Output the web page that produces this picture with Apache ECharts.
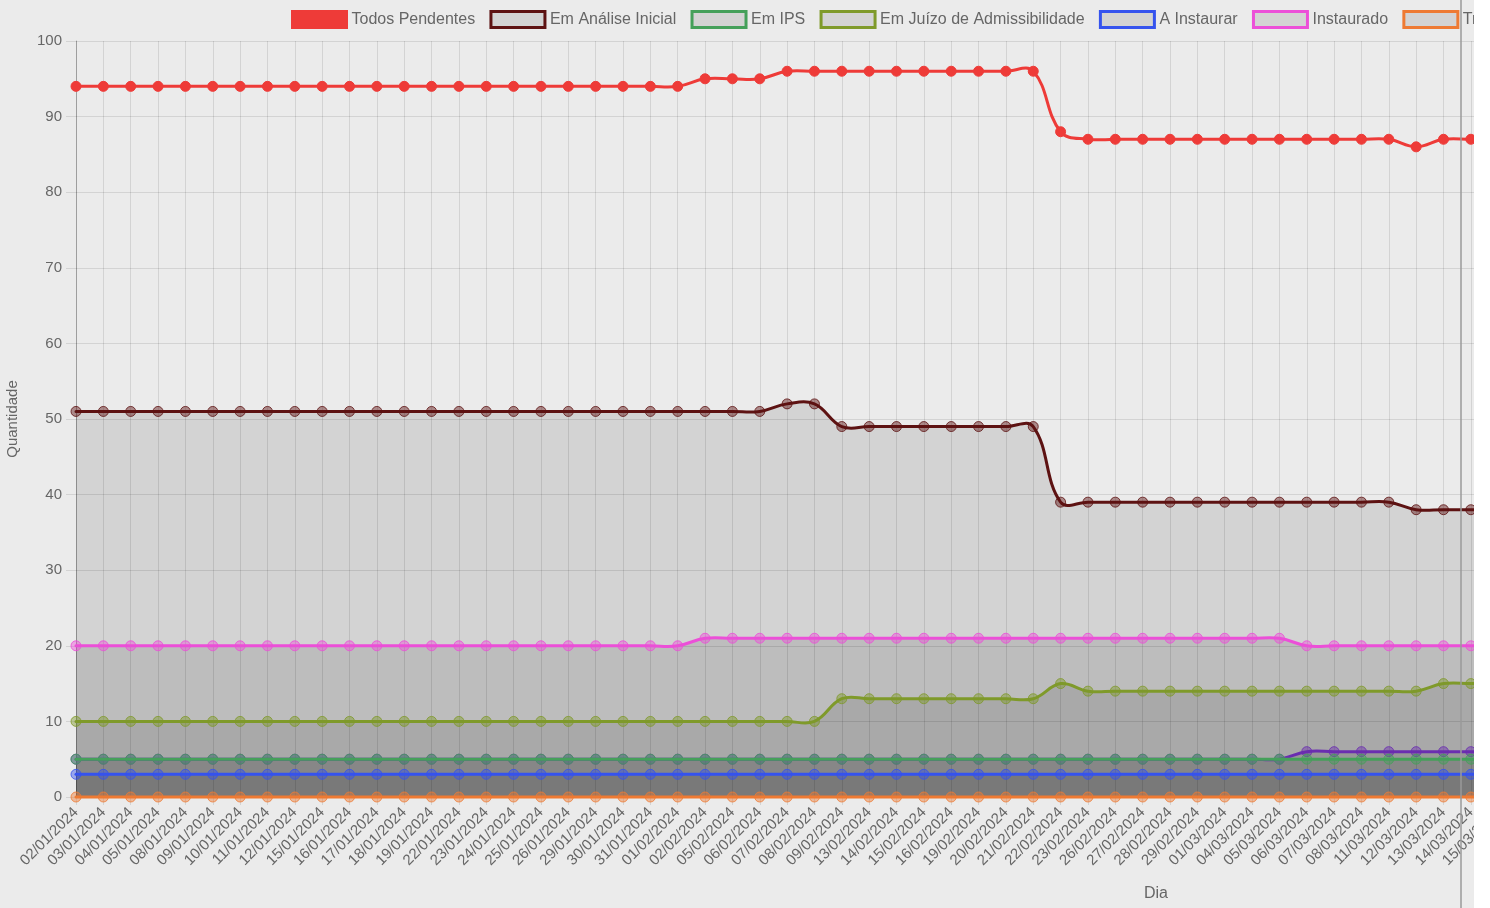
<!DOCTYPE html>
<html><head><meta charset="utf-8">
<script src="https://cdn.jsdelivr.net/npm/echarts@6/dist/echarts.min.js"></script>
<style>html,body{margin:0;padding:0;overflow:hidden;background:#ebebeb;}#c{width:2000px;height:908px;}</style>
</head><body><div id="c"></div>
<script>
const categories = ['02/01/2024','03/01/2024','04/01/2024','05/01/2024','08/01/2024','09/01/2024','10/01/2024','11/01/2024','12/01/2024','15/01/2024','16/01/2024','17/01/2024','18/01/2024','19/01/2024','22/01/2024','23/01/2024','24/01/2024','25/01/2024','26/01/2024','29/01/2024','30/01/2024','31/01/2024',
'01/02/2024','02/02/2024','05/02/2024','06/02/2024','07/02/2024','08/02/2024','09/02/2024','13/02/2024','14/02/2024','15/02/2024','16/02/2024','19/02/2024','20/02/2024','21/02/2024','22/02/2024','23/02/2024','26/02/2024','27/02/2024','28/02/2024','29/02/2024',
'01/03/2024','04/03/2024','05/03/2024','06/03/2024','07/03/2024','08/03/2024','11/03/2024','12/03/2024','13/03/2024','14/03/2024','15/03/2024'];

const todosPendentes = [94,94,94,94,94,94,94,94,94,94,94,94,94,94,94,94,94,94,94,94,94,94,94,95,95,95,96,96,96,96,96,96,96,96,96,96,88,87,87,87,87,87,87,87,87,87,87,87,87,86,87,87,87];
const emAnaliseInicial = [51,51,51,51,51,51,51,51,51,51,51,51,51,51,51,51,51,51,51,51,51,51,51,51,51,51,52,52,49,49,49,49,49,49,49,49,39,39,39,39,39,39,39,39,39,39,39,39,39,38,38,38,38];
const emIPS = [5,5,5,5,5,5,5,5,5,5,5,5,5,5,5,5,5,5,5,5,5,5,5,5,5,5,5,5,5,5,5,5,5,5,5,5,5,5,5,5,5,5,5,5,5,5,5,5,5,5,5,5,5];
const emJuizo = [10,10,10,10,10,10,10,10,10,10,10,10,10,10,10,10,10,10,10,10,10,10,10,10,10,10,10,10,13,13,13,13,13,13,13,13,15,14,14,14,14,14,14,14,14,14,14,14,14,14,15,15,15];
const aInstaurar = [3,3,3,3,3,3,3,3,3,3,3,3,3,3,3,3,3,3,3,3,3,3,3,3,3,3,3,3,3,3,3,3,3,3,3,3,3,3,3,3,3,3,3,3,3,3,3,3,3,3,3,3,3];
const instaurado = [20,20,20,20,20,20,20,20,20,20,20,20,20,20,20,20,20,20,20,20,20,20,20,21,21,21,21,21,21,21,21,21,21,21,21,21,21,21,21,21,21,21,21,21,21,20,20,20,20,20,20,20,20];
const tramitado = [0,0,0,0,0,0,0,0,0,0,0,0,0,0,0,0,0,0,0,0,0,0,0,0,0,0,0,0,0,0,0,0,0,0,0,0,0,0,0,0,0,0,0,0,0,0,0,0,0,0,0,0,0];
const outros = [5,5,5,5,5,5,5,5,5,5,5,5,5,5,5,5,5,5,5,5,5,5,5,5,5,5,5,5,5,5,5,5,5,5,5,5,5,5,5,5,5,5,5,5,5,6,6,6,6,6,6,6,6];
const yTicks = [0,10,20,30,40,50,60,70,80,90,100];

const defs = [
  {name:'Todos Pendentes', data:todosPendentes, color:'#ee3b38', fill:false, solid:true},
  {name:'Em Análise Inicial', data:emAnaliseInicial, color:'#5d1212', fill:true},
  {name:'Em IPS', data:emIPS, color:'#45a05a', fill:true},
  {name:'Em Juízo de Admissibilidade', data:emJuizo, color:'#7f9a2a', fill:true},
  {name:'A Instaurar', data:aInstaurar, color:'#3553ee', fill:true},
  {name:'Instaurado', data:instaurado, color:'#ec4fd8', fill:true},
  {name:'Tramitado', data:tramitado, color:'#ee7a33', fill:true},
  {name:'Outros', data:outros, color:'#6a2db0', fill:true}
];

function alpha(hex,a){const n=parseInt(hex.slice(1),16);return 'rgba('+(n>>16)+','+((n>>8)&255)+','+(n&255)+','+a+')';}

// Chart.js-like cubic spline (tension) path through pixel points
function splinePath(pts,t){
  const n=pts.length; const cps=[];
  for(let i=0;i<n;i++){
    const p=pts[i-1]||pts[i], c=pts[i], nx=pts[i+1]||pts[i];
    const d01=Math.hypot(c[0]-p[0],c[1]-p[1]), d12=Math.hypot(nx[0]-c[0],nx[1]-c[1]);
    let s01=d01/(d01+d12), s12=d12/(d01+d12); if(isNaN(s01))s01=0; if(isNaN(s12))s12=0;
    const fa=t*s01, fb=t*s12;
    cps.push({prev:[c[0]-fa*(nx[0]-p[0]),c[1]-fa*(nx[1]-p[1])],next:[c[0]+fb*(nx[0]-p[0]),c[1]+fb*(nx[1]-p[1])]});
  }
  let s='M'+pts[0][0]+' '+pts[0][1];
  for(let i=1;i<n;i++){
    const a=cps[i-1].next,b=cps[i].prev;
    s+=' C'+a[0]+' '+a[1]+' '+b[0]+' '+b[1]+' '+pts[i][0]+' '+pts[i][1];
  }
  return s;
}

const series = [];
defs.forEach((d,i)=>{
  const arr=d.data;
  series.push({name:d.name,type:'custom',z:1,clip:false,silent:true,
    data:arr.map((v,k)=>[k,v]),encode:{x:0,y:1},
    renderItem:function(params,api){
      if(params.dataIndex!==0) return null;
      const pts=arr.map((v,k)=>api.coord([k,v]));
      const line=splinePath(pts,0.4);
      const children=[];
      if(d.fill){
        const base=api.coord([0,0])[1];
        children.push({type:'path',z2:0,shape:{pathData:line+' L'+pts[pts.length-1][0]+' '+base+' L'+pts[0][0]+' '+base+' Z'},
          style:{fill:'rgba(0,0,0,0.1)',stroke:'none'}});
      }
      return {type:'group',children:children};
    }});
  series.push({name:d.name,type:'custom',z:40-2*i,clip:false,silent:true,
    data:arr.map((v,k)=>[k,v]),encode:{x:0,y:1},
    renderItem:function(params,api){
      if(params.dataIndex!==0) return null;
      const pts=arr.map((v,k)=>api.coord([k,v]));
      return {type:'path',shape:{pathData:splinePath(pts,0.4)},
        style:{fill:'none',stroke:d.color,lineWidth:3,lineJoin:'round',lineCap:'round'}};
    }});
  series.push({name:d.name,type:'line',data:arr,z:41-2*i,symbol:'circle',symbolSize:10,
    showSymbol:true,showAllSymbol:true,
    lineStyle:{width:0,opacity:0},
    itemStyle:{color:d.solid?d.color:alpha(d.color,0.45),borderColor:alpha(d.color,d.solid?1:0.8),borderWidth:1}});
});

const chart = echarts.init(document.getElementById('c'));
chart.setOption({
  backgroundColor:'#ebebeb',
  animation:false,
  textStyle:{fontFamily:'Liberation Sans, Arial, Helvetica, sans-serif'},
  legend:{left:286,top:5,itemWidth:54,itemHeight:16,itemGap:14.3,icon:'rect',width:1700,
    textStyle:{fontSize:16,color:'#666'},
    data:defs.map(d=>({name:d.name,itemStyle:{color:d.solid?d.color:'rgba(0,0,0,0.1)',borderColor:d.color,borderWidth:3}}))},
  grid:{left:76,top:41,width:1422.2,height:756,containLabel:false,outerBoundsMode:'none'},
  xAxis:{type:'category',data:categories,boundaryGap:false,
    axisLine:{lineStyle:{color:'rgba(0,0,0,0.25)'}},
    axisTick:{show:true,interval:0,length:8,lineStyle:{color:'rgba(0,0,0,0.1)'}},
    axisLabel:{interval:0,rotate:45,fontSize:15,color:'#666',margin:13},
    splitLine:{show:true,interval:0,lineStyle:{color:'rgba(0,0,0,0.1)'}}},
  yAxis:{type:'value',min:yTicks[0],max:yTicks[yTicks.length-1],interval:10,
    name:'Quantidade',nameLocation:'middle',nameGap:56,nameRotate:90,nameTextStyle:{fontSize:15,color:'#666'},
    axisLine:{show:true,lineStyle:{color:'rgba(0,0,0,0.25)'}},
    axisTick:{show:true,length:10,lineStyle:{color:'rgba(0,0,0,0.1)'}},
    axisLabel:{fontSize:15,color:'#666',margin:14},
    splitLine:{show:true,lineStyle:{color:'rgba(0,0,0,0.1)'}}},
  graphic:[
    {type:'text',left:1144,top:886,z:50,style:{text:'Dia',fontSize:16,fill:'#666',fontFamily:'Liberation Sans, Arial, sans-serif'}},
    {type:'line',z:100,shape:{x1:1461,y1:0,x2:1461,y2:908},style:{stroke:'#9a9a9a',lineWidth:1.5}},
    {type:'rect',z:101,shape:{x:1474,y:0,width:600,height:908},style:{fill:'#ffffff'}}
  ],
  series:series
});
</script></body></html>
